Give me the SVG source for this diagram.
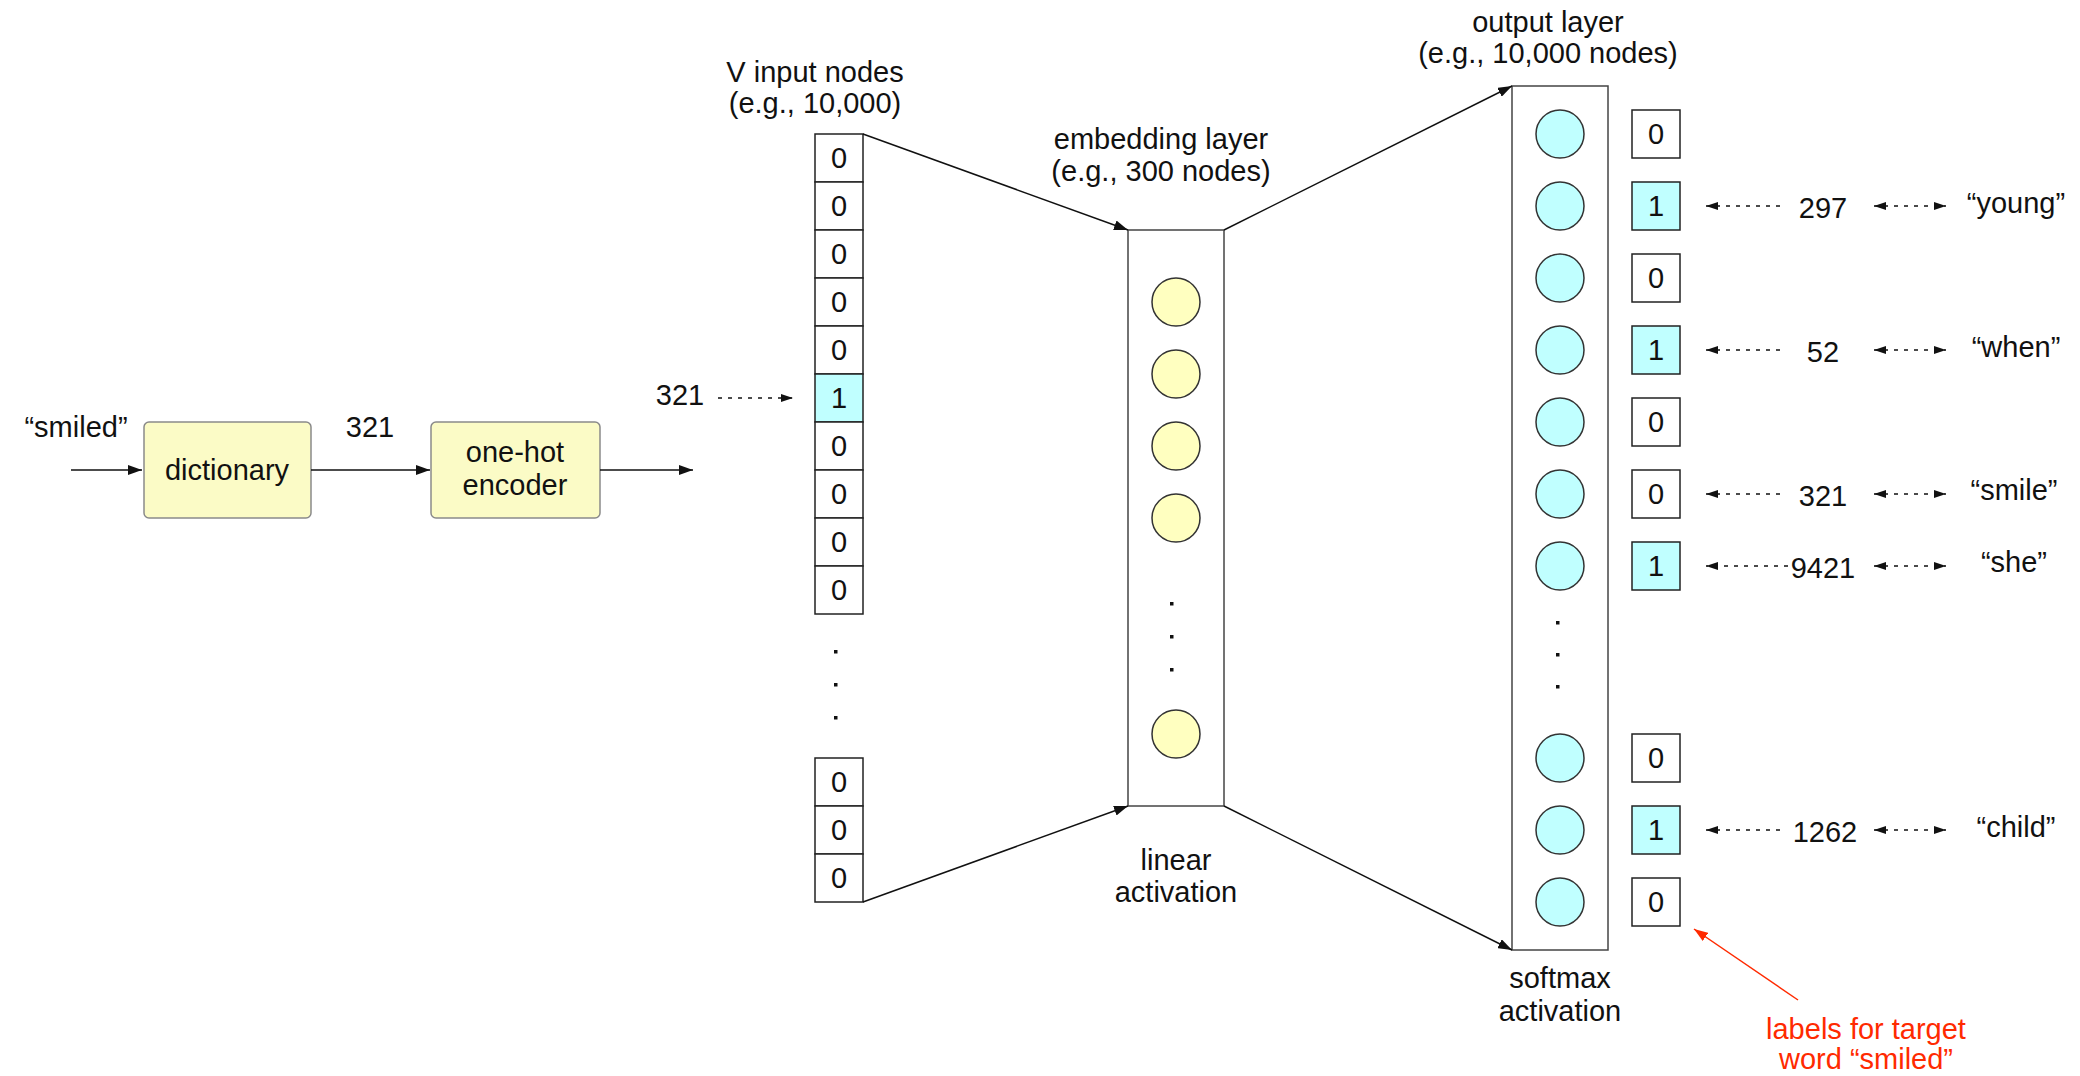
<svg xmlns="http://www.w3.org/2000/svg" width="2080" height="1076" viewBox="0 0 2080 1076">
<defs>
<style>
text{font-family:"Liberation Sans",Arial,Helvetica,sans-serif;font-size:29px;fill:#111;text-anchor:middle}
.red{fill:#ff2a00}
.box{fill:#fbfbc6;stroke:#8a8a8a;stroke-width:1.5}
.cell{fill:#fff;stroke:#222;stroke-width:1.5}
.hot{fill:#c0ffff;stroke:#222;stroke-width:1.5}
.layer{fill:#fff;stroke:#444;stroke-width:1.5}
.yc{fill:#ffffc0;stroke:#333;stroke-width:1.5}
.cc{fill:#c0ffff;stroke:#333;stroke-width:1.5}
.ln{fill:none;stroke:#111;stroke-width:1.5}
.dot{fill:none;stroke:#111;stroke-width:1.3;stroke-dasharray:4 6}
.rln{fill:none;stroke:#ff2a00;stroke-width:1.5}
.d{fill:#111}
</style>
<marker id="ah" markerUnits="userSpaceOnUse" markerWidth="15" markerHeight="10" refX="14" refY="5" orient="auto-start-reverse"><path d="M0,0 L14,5 L0,10 z" fill="#111"/></marker>
<marker id="sh" markerUnits="userSpaceOnUse" markerWidth="13" markerHeight="9" refX="12" refY="4" orient="auto-start-reverse"><path d="M0,0 L12,4 L0,8 z" fill="#111"/></marker>
<marker id="rh" markerUnits="userSpaceOnUse" markerWidth="15" markerHeight="10" refX="14" refY="5" orient="auto-start-reverse"><path d="M0,0 L14,5 L0,10 z" fill="#ff2a00"/></marker>
</defs>

<g id="input-word"><text x="76" y="437">“smiled”</text></g>
<g id="dictionary"><rect class="box" x="144" y="422" width="167" height="96" rx="5"/><text x="227" y="480">dictionary</text></g>
<g id="index-label"><text x="370" y="437">321</text></g>
<g id="one-hot-encoder"><rect class="box" x="431" y="422" width="169" height="96" rx="5"/><text x="515" y="462">one-hot</text><text x="515" y="495">encoder</text></g>
<g id="index-321"><text x="680" y="405">321</text></g>

<g id="input-layer">
<text x="815" y="82">V input nodes</text>
<text x="815" y="113">(e.g., 10,000)</text>
<rect class="cell" x="815" y="134" width="48" height="48"/><text x="839" y="168">0</text>
<rect class="cell" x="815" y="182" width="48" height="48"/><text x="839" y="216">0</text>
<rect class="cell" x="815" y="230" width="48" height="48"/><text x="839" y="264">0</text>
<rect class="cell" x="815" y="278" width="48" height="48"/><text x="839" y="312">0</text>
<rect class="cell" x="815" y="326" width="48" height="48"/><text x="839" y="360">0</text>
<rect class="hot" x="815" y="374" width="48" height="48"/><text x="839" y="408">1</text>
<rect class="cell" x="815" y="422" width="48" height="48"/><text x="839" y="456">0</text>
<rect class="cell" x="815" y="470" width="48" height="48"/><text x="839" y="504">0</text>
<rect class="cell" x="815" y="518" width="48" height="48"/><text x="839" y="552">0</text>
<rect class="cell" x="815" y="566" width="48" height="48"/><text x="839" y="600">0</text>
<rect class="d" x="834" y="650" width="3.5" height="3.5"/>
<rect class="d" x="834" y="683" width="3.5" height="3.5"/>
<rect class="d" x="834" y="716" width="3.5" height="3.5"/>
<rect class="cell" x="815" y="758" width="48" height="48"/><text x="839" y="792">0</text>
<rect class="cell" x="815" y="806" width="48" height="48"/><text x="839" y="840">0</text>
<rect class="cell" x="815" y="854" width="48" height="48"/><text x="839" y="888">0</text>
</g>

<g id="embedding-layer">
<text x="1161" y="149">embedding layer</text>
<text x="1161" y="181">(e.g., 300 nodes)</text>
<rect class="layer" x="1128" y="230" width="96" height="576"/>
<circle class="yc" cx="1176" cy="302" r="24"/>
<circle class="yc" cx="1176" cy="374" r="24"/>
<circle class="yc" cx="1176" cy="446" r="24"/>
<circle class="yc" cx="1176" cy="518" r="24"/>
<rect class="d" x="1170" y="602" width="3.5" height="3.5"/>
<rect class="d" x="1170" y="635" width="3.5" height="3.5"/>
<rect class="d" x="1170" y="668" width="3.5" height="3.5"/>
<circle class="yc" cx="1176" cy="734" r="24"/>
<text x="1176" y="870">linear</text>
<text x="1176" y="902">activation</text>
</g>

<g id="output-layer">
<text x="1548" y="32">output layer</text>
<text x="1548" y="63">(e.g., 10,000 nodes)</text>
<rect class="layer" x="1512" y="86" width="96" height="864"/>
<circle class="cc" cx="1560" cy="134" r="24"/>
<circle class="cc" cx="1560" cy="206" r="24"/>
<circle class="cc" cx="1560" cy="278" r="24"/>
<circle class="cc" cx="1560" cy="350" r="24"/>
<circle class="cc" cx="1560" cy="422" r="24"/>
<circle class="cc" cx="1560" cy="494" r="24"/>
<circle class="cc" cx="1560" cy="566" r="24"/>
<rect class="d" x="1556" y="621" width="3.5" height="3.5"/>
<rect class="d" x="1556" y="653" width="3.5" height="3.5"/>
<rect class="d" x="1556" y="685" width="3.5" height="3.5"/>
<circle class="cc" cx="1560" cy="758" r="24"/>
<circle class="cc" cx="1560" cy="830" r="24"/>
<circle class="cc" cx="1560" cy="902" r="24"/>
<text x="1560" y="988">softmax</text>
<text x="1560" y="1021">activation</text>
</g>

<g id="target-labels">
<rect class="cell" x="1632" y="110" width="48" height="48"/><text x="1656" y="144">0</text>
<rect class="hot" x="1632" y="182" width="48" height="48"/><text x="1656" y="216">1</text>
<rect class="cell" x="1632" y="254" width="48" height="48"/><text x="1656" y="288">0</text>
<rect class="hot" x="1632" y="326" width="48" height="48"/><text x="1656" y="360">1</text>
<rect class="cell" x="1632" y="398" width="48" height="48"/><text x="1656" y="432">0</text>
<rect class="cell" x="1632" y="470" width="48" height="48"/><text x="1656" y="504">0</text>
<rect class="hot" x="1632" y="542" width="48" height="48"/><text x="1656" y="576">1</text>
<rect class="cell" x="1632" y="734" width="48" height="48"/><text x="1656" y="768">0</text>
<rect class="hot" x="1632" y="806" width="48" height="48"/><text x="1656" y="840">1</text>
<rect class="cell" x="1632" y="878" width="48" height="48"/><text x="1656" y="912">0</text>
</g>

<g id="word-young"><text x="1823" y="218">297</text><text x="2016" y="213">“young”</text></g>
<g id="word-when"><text x="1823" y="362">52</text><text x="2016" y="357">“when”</text></g>
<g id="word-smile"><text x="1823" y="506">321</text><text x="2014" y="500">“smile”</text></g>
<g id="word-she"><text x="1823" y="578">9421</text><text x="2014" y="572">“she”</text></g>
<g id="word-child"><text x="1825" y="842">1262</text><text x="2016" y="837">“child”</text></g>

<g id="note"><text class="red" x="1866" y="1039">labels for target</text><text class="red" x="1866" y="1069">word “smiled”</text></g>

<g id="connectors">
<line class="ln" x1="71" y1="470" x2="142" y2="470" marker-end="url(#ah)"/>
<line class="ln" x1="311" y1="470" x2="430" y2="470" marker-end="url(#ah)"/>
<line class="ln" x1="600" y1="470" x2="693" y2="470" marker-end="url(#ah)"/>
<line class="dot" x1="718" y1="398" x2="793" y2="398" marker-end="url(#sh)"/>
<line class="ln" x1="863" y1="134" x2="1128" y2="230" marker-end="url(#ah)"/>
<line class="ln" x1="863" y1="902" x2="1128" y2="806" marker-end="url(#ah)"/>
<line class="ln" x1="1224" y1="230" x2="1512" y2="86" marker-end="url(#ah)"/>
<line class="ln" x1="1224" y1="806" x2="1512" y2="950" marker-end="url(#ah)"/>
<line class="dot" x1="1780" y1="206" x2="1706" y2="206" marker-end="url(#sh)"/>
<line class="dot" x1="1874" y1="206" x2="1946" y2="206" marker-start="url(#sh)" marker-end="url(#sh)"/>
<line class="dot" x1="1780" y1="350" x2="1706" y2="350" marker-end="url(#sh)"/>
<line class="dot" x1="1874" y1="350" x2="1946" y2="350" marker-start="url(#sh)" marker-end="url(#sh)"/>
<line class="dot" x1="1780" y1="494" x2="1706" y2="494" marker-end="url(#sh)"/>
<line class="dot" x1="1874" y1="494" x2="1946" y2="494" marker-start="url(#sh)" marker-end="url(#sh)"/>
<line class="dot" x1="1788" y1="566" x2="1706" y2="566" marker-end="url(#sh)"/>
<line class="dot" x1="1874" y1="566" x2="1946" y2="566" marker-start="url(#sh)" marker-end="url(#sh)"/>
<line class="dot" x1="1780" y1="830" x2="1706" y2="830" marker-end="url(#sh)"/>
<line class="dot" x1="1874" y1="830" x2="1946" y2="830" marker-start="url(#sh)" marker-end="url(#sh)"/>
<line class="rln" x1="1798" y1="1000" x2="1694" y2="929" marker-end="url(#rh)"/>
</g>
</svg>
